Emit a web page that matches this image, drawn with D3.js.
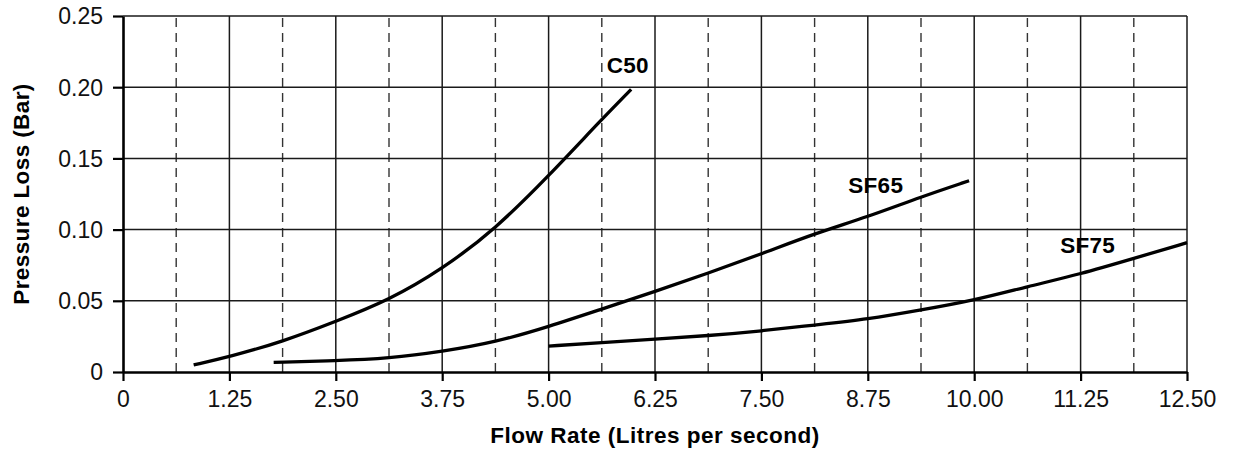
<!DOCTYPE html>
<html>
<head>
<meta charset="utf-8">
<script src="https://cdn.jsdelivr.net/npm/d3@7"></script>
<style>
  html, body { margin: 0; padding: 0; background: #fff; }
  svg { display: block; }
</style>
</head>
<body>
<svg id="chart" width="1234" height="452"></svg>
<script>
// ---- data ----
const xTicks = [0, 1.25, 2.5, 3.75, 5, 6.25, 7.5, 8.75, 10, 11.25, 12.5];
const xTickLabels = ["0", "1.25", "2.50", "3.75", "5.00", "6.25", "7.50", "8.75", "10.00", "11.25", "12.50"];
const xMinor = [0.625, 1.875, 3.125, 4.375, 5.625, 6.875, 8.125, 9.375, 10.625, 11.875];
const yTicks = [0, 0.05, 0.10, 0.15, 0.20, 0.25];
const yTickLabels = ["0", "0.05", "0.10", "0.15", "0.20", "0.25"];

const c50X = [0.83, 1.25, 1.875, 2.5, 3.125, 3.75, 4.375, 5.0, 5.625, 5.97];
const c50Y = [0.005, 0.0107, 0.0213, 0.0355, 0.0505, 0.0722, 0.1004, 0.1376, 0.1775, 0.1985];

const sf65X = [1.77, 2.5, 3.125, 3.75, 4.375, 5.0, 5.625, 6.25, 6.875, 7.5, 8.125, 8.75, 9.375, 9.94];
const sf65Y = [0.0068, 0.0079, 0.0096, 0.0143, 0.0209, 0.0318, 0.0442, 0.0565, 0.0695, 0.0829, 0.0972, 0.109, 0.123, 0.1343];

const sf75X = [5.0, 5.625, 6.25, 6.875, 7.5, 8.125, 8.75, 9.375, 10.0, 10.625, 11.25, 11.875, 12.5];
const sf75Y = [0.0182, 0.0206, 0.023, 0.0255, 0.0288, 0.033, 0.037, 0.0435, 0.0503, 0.060, 0.0688, 0.0798, 0.0908];

const seriesNames = ["C50", "SF65", "SF75"];
const xTitle = "Flow Rate (Litres per second)";
const yTitle = "Pressure Loss (Bar)";

// ---- layout ----
const svg = d3.select("#chart");
const mLeft = 123, mRight = 1187, mTop = 16, mBottom = 372;
const x = d3.scaleLinear().domain([0, 12.5]).range([mLeft, mRight]);
const y = d3.scaleLinear().domain([0, 0.25]).range([mBottom, mTop]);

const FONT = "'Liberation Sans', Arial, Helvetica, sans-serif";

// minor dashed verticals
svg.append("g").selectAll("line").data(xMinor).join("line")
  .attr("x1", d => x(d)).attr("x2", d => x(d))
  .attr("y1", y(0.25) + 2).attr("y2", y(0))
  .attr("stroke", "#333").attr("stroke-width", 1.4)
  .attr("stroke-dasharray", "9,6");

// major vertical grid
svg.append("g").selectAll("line").data(xTicks.slice(1)).join("line")
  .attr("x1", d => x(d)).attr("x2", d => x(d))
  .attr("y1", y(0.25)).attr("y2", y(0))
  .attr("stroke", "#1a1a1a").attr("stroke-width", 1.5);

// horizontal grid
svg.append("g").selectAll("line").data(yTicks.slice(1)).join("line")
  .attr("x1", x(0)).attr("x2", x(12.5))
  .attr("y1", d => y(d)).attr("y2", d => y(d))
  .attr("stroke", "#1a1a1a").attr("stroke-width", 1.5);

// axes
const xAxis = d3.axisBottom(x).tickValues(xTicks)
  .tickFormat((d, i) => xTickLabels[i]).tickSizeInner(9).tickSizeOuter(0).tickPadding(10);
const yAxis = d3.axisLeft(y).tickValues(yTicks)
  .tickFormat((d, i) => yTickLabels[i]).tickSizeInner(10).tickSizeOuter(0).tickPadding(10);

const gx = svg.append("g").attr("transform", `translate(0,${mBottom})`).call(xAxis);
const gy = svg.append("g").attr("transform", `translate(${mLeft},0)`).call(yAxis);

[gx, gy].forEach(g => {
  g.select(".domain").attr("stroke", "#000").attr("stroke-width", 2.6);
  g.selectAll(".tick line").attr("stroke", "#000").attr("stroke-width", 2.2);
  g.selectAll(".tick text").attr("fill", "#111")
    .style("font-family", FONT).style("font-size", "23px");
});
gy.selectAll(".tick text").attr("dy", "0.34em");

// curves
const line = d3.line().x(d => x(d[0])).y(d => y(d[1])).curve(d3.curveBasis);
const series = [
  d3.zip(c50X, c50Y),
  d3.zip(sf65X, sf65Y),
  d3.zip(sf75X, sf75Y)
];
svg.append("g").selectAll("path").data(series).join("path")
  .attr("d", line)
  .attr("fill", "none").attr("stroke", "#000").attr("stroke-width", 3.3);

// series labels
const labelPos = [[5.683, 0.2102], [8.52, 0.1259], [11.01, 0.0834]];
svg.append("g").selectAll("text").data(seriesNames).join("text")
  .attr("x", (d, i) => x(labelPos[i][0]))
  .attr("y", (d, i) => y(labelPos[i][1]))
  .text(d => d)
  .style("font-family", FONT).style("font-size", "22.5px").style("font-weight", "bold")
  .style("letter-spacing", "0.3px").attr("fill", "#000");

// axis titles
svg.append("text")
  .attr("x", (mLeft + mRight) / 2).attr("y", 443)
  .attr("text-anchor", "middle")
  .text(xTitle)
  .style("font-family", FONT).style("font-size", "22.5px").style("font-weight", "bold")
  .style("letter-spacing", "0.5px").attr("fill", "#000");

svg.append("text")
  .attr("transform", `translate(29,${(mTop + mBottom) / 2}) rotate(-90)`)
  .attr("text-anchor", "middle")
  .text(yTitle)
  .style("font-family", FONT).style("font-size", "22.5px").style("font-weight", "bold")
  .style("letter-spacing", "0.4px").attr("fill", "#000");
</script>
</body>
</html>
